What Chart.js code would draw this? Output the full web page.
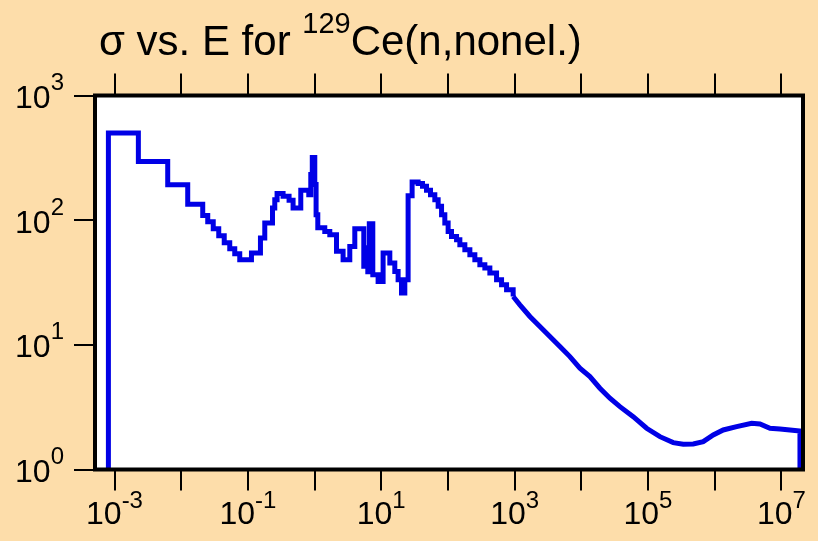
<!DOCTYPE html>
<html>
<head>
<meta charset="utf-8">
<script src="https://cdn.jsdelivr.net/npm/chart.js@4.4.1/dist/chart.umd.min.js"></script>
<style>
html,body{margin:0;padding:0;background:#FDDDAA;}
#wrap{width:818px;height:541px;position:relative;}
canvas{display:block;}
</style>
</head>
<body>
<div id="wrap"><canvas id="c" width="818" height="541"></canvas></div>
<script>
// ---- data (energy in eV, cross section in b) ----
// low-energy group-wise part (stepped)
const lowEnergy = [8.1e-4, 8.1e-4, 2.28e-3, 6.28e-3, 0.01253, 0.02104, 0.02501, 0.03025, 0.03657, 0.04421,
  0.05348, 0.06356, 0.07553, 0.1132, 0.1544, 0.1792, 0.2338, 0.2531, 0.2741, 0.3372,
  0.4148, 0.4763, 0.6213, 0.8189, 0.8776, 0.9243, 1.0077, 1.054, 1.118, 1.423,
  1.692, 2.132, 2.678, 3.375, 4.012, 5.473, 5.969, 6.286, 6.621, 7.469,
  8.971, 10.66, 13.44, 15.97, 17.90, 20.13, 22.56, 25.28, 29.03, 35.72,
  41.57, 47.74, 54.81, 63.59, 71.3, 80.2, 89.8, 100.7, 113.2, 134.6,
  150.9, 179.3, 213.2, 253.3, 301.1, 357.8, 425.2, 535.9, 636.9, 756.9, 951];
const lowSigma = [1, 500, 295, 192, 134, 109, 97.3, 85.5, 75.1, 65.9,
  59.0, 53.8, 48.2, 54.5, 71.9, 95.0, 125.3, 146.1, 163.3, 155.3,
  144.2, 125.3, 173.5, 160.2, 232, 318, 193, 110.7, 87.1, 81.3,
  76.5, 56.2, 48.2, 61.6, 85.4, 42.6, 60.1, 38.6, 93.7, 36.5,
  32.2, 54.5, 45.3, 38.8, 33.3, 26.0, 33.3, 157.3, 202.7, 196.5,
  186.8, 173.5, 160.2, 146.1, 129.1, 110.7, 95.0, 81.3, 74.1, 69.7,
  63.6, 57.9, 52.8, 48.2, 43.9, 41.3, 37.7, 33.3, 30.3, 27.7, 24.4];
// high-energy smooth part
const highEnergy = [951, 1199, 1693, 2391, 3378, 4771, 6740, 9522, 13450, 19000,
  26840, 37910, 60010, 95330, 150900, 238900, 337600, 476800, 673500, 951300,
  1.344e6, 2.135e6, 3.584e6, 4.774e6, 6.744e6, 9.526e6, 1.345e7, 1.90e7, 1.90e7];
const highSigma = [24.4, 20.95, 16.88, 14.03, 11.66, 9.69, 8.05, 6.50, 5.565, 4.489,
  3.731, 3.194, 2.655, 2.142, 1.834, 1.642, 1.594, 1.603, 1.672, 1.893,
  2.076, 2.207, 2.350, 2.320, 2.142, 2.115, 2.076, 2.038, 1];

// ---- axes / text ----
const xRange = [5.1e-4, 2.11e7];
const yRange = [1, 1000];
const xTickValues = [1e-3, 1e-2, 1e-1, 1e0, 1e1, 1e2, 1e3, 1e4, 1e5, 1e6, 1e7];
const xLabelValues = [1e-3, 1e-1, 1e1, 1e3, 1e5, 1e7];
const xLabelExps = ['-3', '-1', '1', '3', '5', '7'];
const yTickValues = [1, 10, 100, 1000];
const yLabelExps = ['0', '1', '2', '3'];
const titleMain = 'σ vs. E for ';
const titleSup = '129';
const titleRest = 'Ce(n,nonel.)';

const FONT = '"Liberation Sans", Arial, Helvetica, sans-serif';
const BG = '#FDDDAA';
const LINE = '#0000E6';

const toPts = (xs, ys) => xs.map((x, i) => ({x: x, y: ys[i]}));

function drawPow(ctx, exp, x, baseY, expY, align) {
  ctx.font = '32px ' + FONT;
  const w1 = ctx.measureText('10').width;
  ctx.font = '24px ' + FONT;
  const w2 = ctx.measureText(exp).width;
  const x0 = align === 'center' ? x - (w1 + w2) / 2 : x - (w1 + w2);
  ctx.textAlign = 'left';
  ctx.textBaseline = 'alphabetic';
  ctx.font = '32px ' + FONT;
  ctx.fillText('10', x0, baseY);
  ctx.font = '24px ' + FONT;
  ctx.fillText(exp, x0 + w1, expY);
}

const decor = {
  id: 'decor',
  beforeDraw(chart) {
    const {ctx, chartArea: a} = chart;
    ctx.save();
    ctx.fillStyle = BG;
    ctx.fillRect(0, 0, chart.width, chart.height);
    ctx.fillStyle = '#FFFFFF';
    ctx.fillRect(a.left, a.top, a.right - a.left, a.bottom - a.top);
    ctx.restore();
  },
  afterDatasetsDraw(chart) {
    const {ctx, chartArea: a} = chart;
    ctx.save();
    ctx.strokeStyle = '#000';
    ctx.lineWidth = 4;
    ctx.strokeRect(a.left, a.top, a.right - a.left, a.bottom - a.top);
    ctx.restore();
  },
  afterDraw(chart) {
    const {ctx, chartArea: a} = chart;
    const xs = chart.scales.x, ys = chart.scales.y;
    ctx.save();
    ctx.fillStyle = '#000';
    xLabelValues.forEach((v, i) => {
      const px = xs.getPixelForValue(v);
      drawPow(ctx, xLabelExps[i], px, a.bottom + 54, a.bottom + 38.5, 'center');
    });
    yTickValues.forEach((v, i) => {
      const py = ys.getPixelForValue(v);
      drawPow(ctx, yLabelExps[i], ys.left - 10, py + 12.5, py - 5.5, 'right');
    });
    // title
    ctx.textAlign = 'left';
    ctx.textBaseline = 'alphabetic';
    let tx = 99;
    ctx.font = '42px ' + FONT;
    ctx.fillText(titleMain, tx, 55);
    tx += ctx.measureText(titleMain).width;
    ctx.font = '29px ' + FONT;
    ctx.fillText(titleSup, tx, 33);
    tx += ctx.measureText(titleSup).width;
    ctx.font = '42px ' + FONT;
    ctx.fillText(titleRest, tx, 55);
    ctx.restore();
  }
};

const tickGrid = (len) => ({
  display: true, drawOnChartArea: false, drawTicks: true,
  tickLength: len, tickWidth: 2, tickColor: '#000', color: '#000', lineWidth: 2
});

new Chart(document.getElementById('c'), {
  type: 'line',
  data: {
    datasets: [
      {data: toPts(lowEnergy, lowSigma), borderColor: LINE, borderWidth: 5, pointRadius: 0,
       fill: false, stepped: 'before', tension: 0, borderJoinStyle: 'miter', borderCapStyle: 'butt'},
      {data: toPts(highEnergy, highSigma), borderColor: LINE, borderWidth: 5, pointRadius: 0,
       fill: false, stepped: false, tension: 0, borderJoinStyle: 'miter'}
    ]
  },
  options: {
    responsive: false,
    animation: false,
    devicePixelRatio: 1,
    parsing: true,
    layout: {padding: {left: 74, top: 73.5, right: 15, bottom: 50.5}},
    plugins: {legend: {display: false}, tooltip: {enabled: false}, title: {display: false}},
    scales: {
      x: {
        type: 'logarithmic', position: 'bottom', min: xRange[0], max: xRange[1],
        afterBuildTicks: s => { s.ticks = xTickValues.map(v => ({value: v})); },
        ticks: {display: false}, grid: tickGrid(21), border: {display: false}
      },
      x2: {
        type: 'logarithmic', axis: 'x', position: 'top', min: xRange[0], max: xRange[1],
        afterBuildTicks: s => { s.ticks = xTickValues.map(v => ({value: v})); },
        ticks: {display: false}, grid: tickGrid(22), border: {display: false}
      },
      y: {
        type: 'logarithmic', position: 'left', min: yRange[0], max: yRange[1],
        afterBuildTicks: s => { s.ticks = yTickValues.map(v => ({value: v})); },
        ticks: {display: false}, grid: tickGrid(21), border: {display: false}
      }
    }
  },
  plugins: [decor]
});
</script>
</body>
</html>
